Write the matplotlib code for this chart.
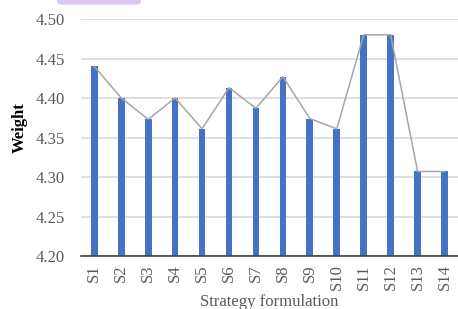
import matplotlib
matplotlib.use("Agg")
import matplotlib.pyplot as plt
from matplotlib.patches import FancyBboxPatch

categories = ["S1", "S2", "S3", "S4", "S5", "S6", "S7", "S8", "S9", "S10", "S11", "S12", "S13", "S14"]
weights = [4.440, 4.400, 4.373, 4.400, 4.361, 4.413, 4.387, 4.427, 4.374, 4.361, 4.480, 4.480, 4.307, 4.307]
yticks = [4.20, 4.25, 4.30, 4.35, 4.40, 4.45, 4.50]

plt.rcParams['font.family'] = ['Liberation Serif', 'DejaVu Serif']

fig = plt.figure(figsize=(4.58, 3.09), dpi=100)
ax = fig.add_axes([0.1765, 0.1715, 0.8235, 0.767])

x = list(range(len(categories)))
ax.bar(x, [w - 4.20 for w in weights], bottom=4.20, width=0.25, color="#4472c4", zorder=3)
ax.plot(x, weights, color="#a6a6a6", linewidth=1.1, zorder=4)

ax.set_ylim(4.20, 4.50)
ax.set_xlim(-0.5, 13.5)
ax.set_yticks(yticks)
ax.set_yticklabels([f"{v:.2f}" for v in yticks], color="#595959", fontsize=12)
ax.set_xticks(x)
ax.set_xticklabels(categories, rotation=90, color="#595959", fontsize=12)
ax.tick_params(axis="both", length=0)
ax.tick_params(axis="y", pad=11.5)
ax.tick_params(axis="x", pad=6)
ax.grid(axis="y", color="#d9d9d9", linewidth=1.2, zorder=0)
for s in ["left", "right", "top"]:
    ax.spines[s].set_visible(False)
ax.spines["bottom"].set_color("#404040")
ax.spines["bottom"].set_linewidth(1.2)
ax.spines["bottom"].set_zorder(5)

fig.text(0.043, 0.586, "Weight", rotation=90, fontsize=12, fontweight="bold",
         color="black", ha="center", va="center")
fig.text(0.588, -0.004, "Strategy formulation", fontsize=12, color="#595959",
         ha="center", va="bottom")

box = FancyBboxPatch((57 / 458, 0.985), (141 - 57) / 458, 0.04,
                     boxstyle="round,pad=0,rounding_size=0.012",
                     transform=fig.transFigure, facecolor="#dcc6f2",
                     edgecolor="none", clip_on=False)
fig.patches.append(box)

fig.savefig("out.png", dpi=100)
